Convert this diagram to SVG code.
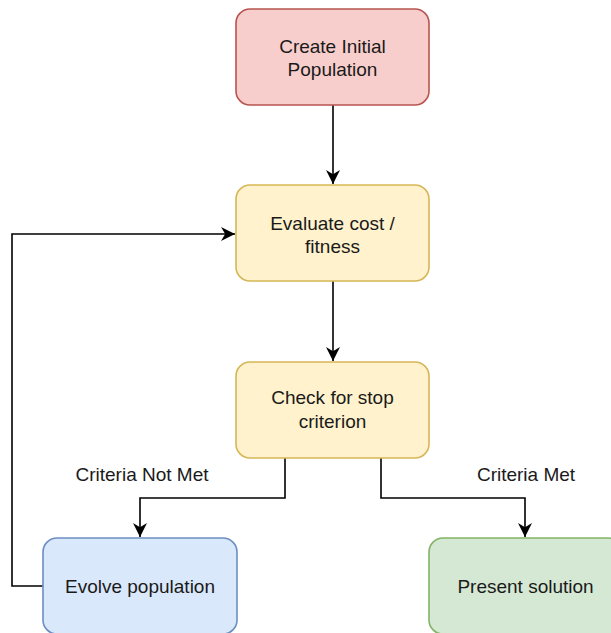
<svg xmlns="http://www.w3.org/2000/svg" width="611" height="633" viewBox="0 0 611 633">
<style>
.box{stroke-width:1.6}
.red{fill:#f8cecc;stroke:#b85450}
.yel{fill:#fff2cc;stroke:#d6b656}
.blu{fill:#dae8fc;stroke:#6c8ebf}
.grn{fill:#d5e8d4;stroke:#82b366}
text{font-family:"Liberation Sans",Arial,sans-serif;font-size:19px;fill:#1a1a1a;text-anchor:middle}
.edge{fill:none;stroke:#000;stroke-width:1.6;marker-end:url(#arr)}
</style>
<defs>
<marker id="arr" viewBox="0 0 10 10" refX="10" refY="5" markerWidth="14" markerHeight="14" markerUnits="userSpaceOnUse" orient="auto">
<path d="M0,0 L10,5 L0,10 L3,5 z" fill="#000"/>
</marker>
</defs>
<rect width="611" height="633" fill="#fff"/>
<g id="connectors">
<path class="edge" d="M333,105 L333,184"/>
<path class="edge" d="M333,281 L333,361"/>
<path class="edge" d="M43,586 L12,586 L12,234 L235,234"/>
<path class="edge" d="M285,458 L285,498 L140,498 L140,537"/>
<path class="edge" d="M381,458 L381,498 L525,498 L525,537"/>
<text x="142" y="481">Criteria Not Met</text>
<text x="526" y="481">Criteria Met</text>
</g>
<g id="n1">
<rect class="box red" x="236" y="9" width="193" height="96" rx="14"/>
<text x="332.5" y="52.5">Create Initial</text>
<text x="332.5" y="76">Population</text>
</g>
<g id="n2">
<rect class="box yel" x="236" y="185" width="193" height="96" rx="14"/>
<text x="332.5" y="229.5">Evaluate cost /</text>
<text x="332.5" y="252.5">fitness</text>
</g>
<g id="n3">
<rect class="box yel" x="236" y="362" width="193" height="96" rx="14"/>
<text x="332.5" y="404">Check for stop</text>
<text x="332.5" y="428">criterion</text>
</g>
<g id="n4">
<rect class="box blu" x="43" y="538" width="194" height="96" rx="14"/>
<text x="140" y="593">Evolve population</text>
</g>
<g id="n5">
<rect class="box grn" x="429" y="538" width="193" height="96" rx="14"/>
<text x="525.5" y="593">Present solution</text>
</g>
</svg>
